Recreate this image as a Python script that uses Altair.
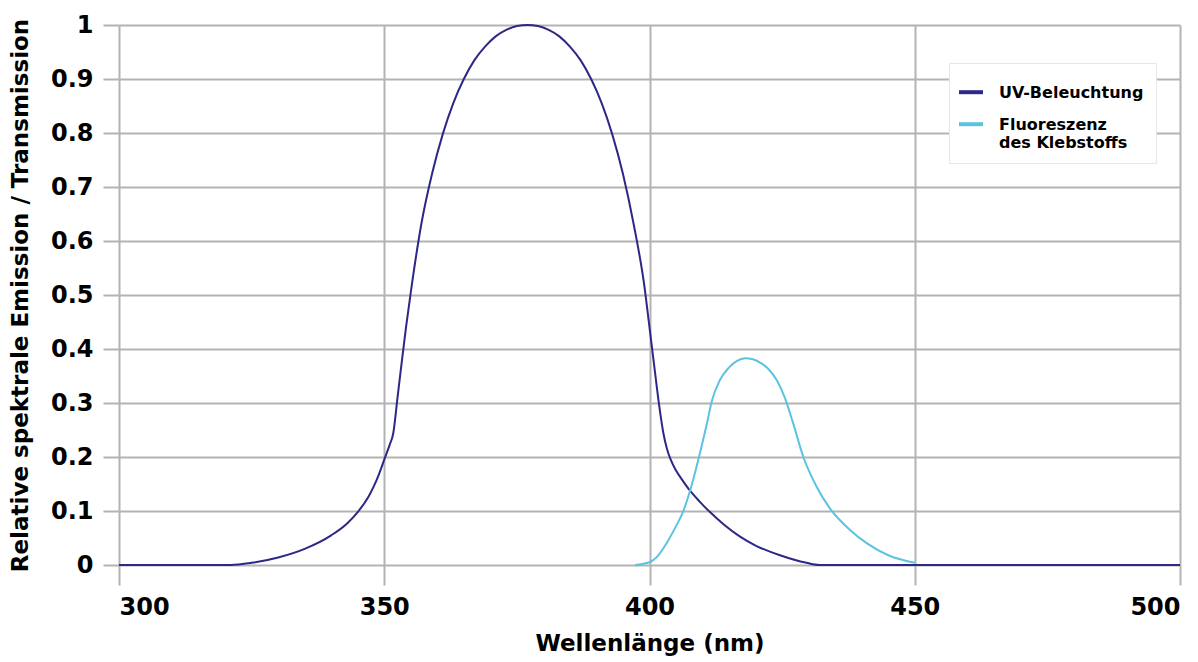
import altair as alt
import pandas as pd

# UV illumination curve (wavelength nm, relative emission)
uv_nm = [300, 310, 321, 325, 330, 335, 340, 343, 345, 347, 348, 349, 350, 351, 351.7,
         352.5, 353.3, 354.1, 355, 357, 359, 361, 363, 365, 367, 369, 371, 373, 375, 377,
         379, 381, 383, 385, 387, 389, 391, 393, 395, 397, 399, 400, 401, 401.9, 402.6,
         403.3, 404, 405, 406, 407.6, 409.5, 411.4, 414, 417, 420, 424.6, 429.6, 432,
         450, 500]
uv_val = [0, 0, 0, 0.004, 0.014, 0.03, 0.055, 0.077, 0.098, 0.126, 0.145, 0.168, 0.195, 0.222, 0.244,
          0.31, 0.376, 0.44, 0.505, 0.632, 0.724, 0.797, 0.855, 0.900, 0.935, 0.960, 0.979, 0.991, 0.998, 1.0,
          0.998, 0.991, 0.979, 0.960, 0.935, 0.900, 0.855, 0.797, 0.724, 0.632, 0.519, 0.44, 0.36, 0.29, 0.245,
          0.215, 0.195, 0.175, 0.16, 0.138, 0.117, 0.098, 0.075, 0.053, 0.036, 0.018, 0.004, 0,
          0, 0]

# Fluorescence of the adhesive
fl_nm = [397.3, 400, 401.5, 403.2, 405, 406.3, 407.6, 409.5, 411, 411.7, 413.3, 415,
         416.5, 418, 419.5, 421, 422.5, 424, 425.5, 427, 429, 431.5, 434, 437.8, 441, 445, 450]
fl_val = [0, 0.005, 0.016, 0.04, 0.072, 0.098, 0.136, 0.207, 0.27, 0.302, 0.343, 0.366,
          0.378, 0.383, 0.381, 0.374, 0.362, 0.342, 0.31, 0.265, 0.2, 0.145, 0.105, 0.065, 0.04, 0.018, 0.004]

series_names = ["UV-Beleuchtung", "Fluoreszenz des Klebstoffs"]
series_colors = ["#2d2786", "#5bc3e0"]

x_ticks = [300, 350, 400, 450, 500]
y_ticks = [0, 0.1, 0.2, 0.3, 0.4, 0.5, 0.6, 0.7, 0.8, 0.9, 1.0]

df = pd.concat([
    pd.DataFrame({"nm": uv_nm, "val": uv_val, "serie": series_names[0], "order": 0}),
    pd.DataFrame({"nm": fl_nm, "val": fl_val, "serie": series_names[1], "order": 1}),
])

FONT = "DejaVu Sans"

chart = alt.Chart(df).mark_line(strokeWidth=2, interpolate="monotone").encode(
    x=alt.X("nm:Q",
            scale=alt.Scale(domain=[300, 500], nice=False),
            axis=alt.Axis(values=x_ticks, title="Wellenlänge (nm)", format="d",
                          tickSize=20, labelPadding=10, titlePadding=13)),
    y=alt.Y("val:Q",
            scale=alt.Scale(domain=[0, 1], nice=False),
            axis=alt.Axis(values=y_ticks, title="Relative spektrale Emission / Transmission",
                          format=".1~f", tickSize=16, labelPadding=10, titlePadding=18)),
    color=alt.Color("serie:N",
                    scale=alt.Scale(domain=series_names, range=series_colors),
                    legend=alt.Legend(
                        title=None, orient="none", legendX=830, legendY=38,
                        fillColor="white", strokeColor="#e6e6e6", padding=12,
                        symbolType="M -1.5 0.9 L 1.5 0.9", symbolSize=256, symbolStrokeWidth=4,
                        labelBaseline="top", labelOffset=18, rowPadding=6,
                        labelFont=FONT, labelFontSize=16, labelFontWeight="bold",
                        labelColor="black", labelLimit=300,
                        labelExpr="datum.label == 'Fluoreszenz des Klebstoffs' ? ['Fluoreszenz', 'des Klebstoffs'] : datum.label",
                    )),
    order="order:Q",
    detail="serie:N",
).properties(
    width=1061, height=540,
    autosize=alt.AutoSizeParams(type="none"),
    padding={"left": 111, "top": 17, "right": 9, "bottom": 92},
).configure_view(
    stroke=None
).configure_axis(
    domain=False,
    grid=True,
    gridColor="#b3b3b3",
    gridWidth=2,
    tickColor="#b3b3b3",
    tickWidth=2,
    labelFont=FONT,
    labelFontSize=24,
    labelFontWeight="bold",
    labelColor="black",
    titleFont=FONT,
    titleFontSize=23,
    titleFontWeight="bold",
    titleColor="black",
)

chart.save("out.html", embed_options={"renderer": "svg", "actions": False})
